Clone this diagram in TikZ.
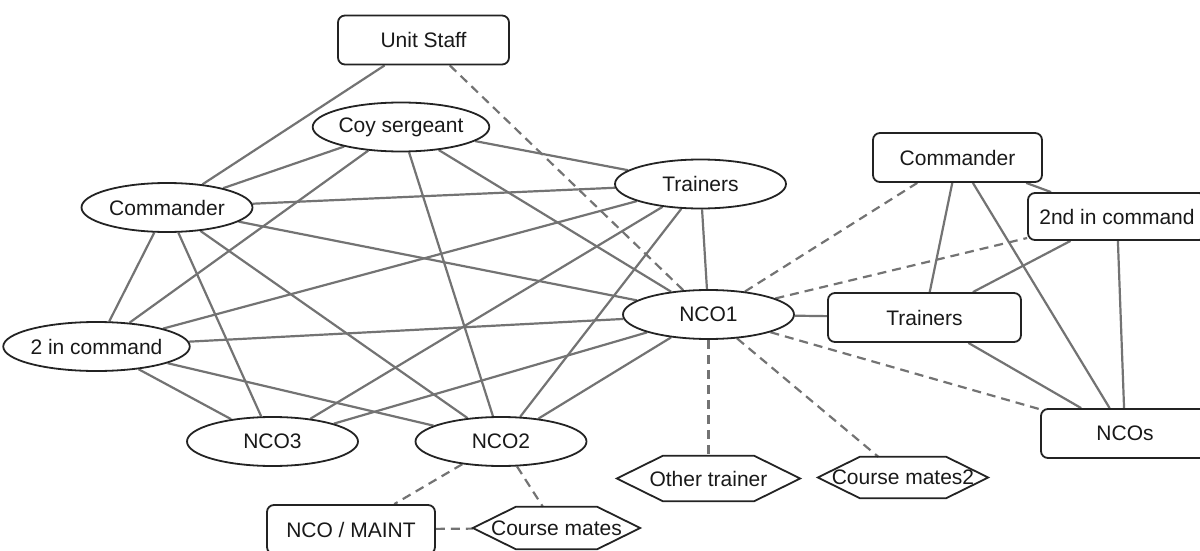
\documentclass[tikz,border=0pt]{standalone}
\usepackage{fontspec}
\setmainfont{Liberation Sans}
\usetikzlibrary{shapes.geometric,backgrounds}
\definecolor{edgegray}{RGB}{115,115,115}
\definecolor{nodeborder}{RGB}{35,35,35}
\definecolor{txt}{RGB}{25,25,25}
\tikzset{
  base/.style={inner sep=0pt, text=txt, font=\fontsize{21}{25}\selectfont},
  ell/.style={base, ellipse, draw=nodeborder, line width=1.8pt, fill=white, minimum width=171pt, minimum height=49pt},
  box/.style={base, rectangle, rounded corners=7pt, draw=nodeborder, line width=1.8pt, fill=white, minimum width=#1, minimum height=49pt},
  box/.default=170pt,
  hexn/.style={base, rectangle, minimum width=#1},
  hexline/.style={draw=nodeborder, line width=1.8pt},
  link/.style={draw=edgegray, line width=2.2pt},
  weak/.style={draw=edgegray, line width=2.2pt, dash pattern=on 9pt off 6pt},
}
\newcommand{\hexdraw}[2]{%
  \draw[hexline] (#1.west) -- ([xshift=#2]#1.north west) -- ([xshift=-#2]#1.north east) -- (#1.east) -- ([xshift=-#2]#1.south east) -- ([xshift=#2]#1.south west) -- cycle;}
\begin{document}
\begin{tikzpicture}[x=1pt,y=-1pt]
\useasboundingbox (0,0) rectangle (1200,551);
% left cluster
\node[box=171pt] (us) at (423.5,40) {Unit Staff};
\node[ell] (coy) at (401,127) {Coy sergeant};
\node[ell] (cmdl) at (167,207.5) {Commander};
\node[ell] (trne) at (700.5,184) {Trainers};
\node[ell] (nco1) at (708.5,314.5) {NCO1};
\node[ell] (twoic) at (96.5,346.5) {2 in command};
\node[ell] (nco3) at (272.5,441.5) {NCO3};
\node[ell] (nco2) at (501,441.5) {NCO2};
\node[box=168pt] (maint) at (351,529.5) {NCO / MAINT};
% hexagons
\node[hexn=167pt, minimum height=42pt] (cm) at (556.5,528) {Course mates};
\hexdraw{cm}{43pt}
\node[hexn=183pt, minimum height=45pt] (ot) at (708.5,478.5) {Other trainer};
\hexdraw{ot}{46pt}
\node[hexn=170pt, minimum height=41pt] (cm2) at (903,477.5) {Course mates2};
\hexdraw{cm2}{42pt}
% right cluster
\node[box=169pt] (cmdr) at (957.5,157.5) {Commander};
\node[box=178pt, minimum height=47pt] (snd) at (1117,216.5) {2nd in command};
\node[box=193pt] (trnr) at (924.5,317.5) {Trainers};
\node[box=168pt] (ncos) at (1125,433.5) {NCOs};
\begin{scope}[on background layer]
% Unit staff
\draw[link] (us) -- (cmdl);
\draw[weak] (us) -- (nco1);
% Coy sergeant
\draw[link] (coy) -- (cmdl);
\draw[link] (coy) -- (trne);
\draw[link] (coy) -- (twoic);
\draw[link] (coy) -- (nco2);
\draw[link] (coy) -- (nco1);
% Commander (left)
\draw[link] (cmdl) -- (trne);
\draw[link] (cmdl) -- (nco1);
\draw[link] (cmdl) -- (twoic);
\draw[link] (cmdl) -- (nco3);
\draw[link] (cmdl) -- (nco2);
% 2 in command
\draw[link] (twoic) -- (trne);
\draw[link] (twoic) -- (nco1);
\draw[link] (twoic) -- (nco3);
\draw[link] (twoic) -- (nco2);
% Trainers ellipse
\draw[link] (trne) -- (nco1);
\draw[link] (trne) -- (nco3);
\draw[link] (trne) -- (nco2);
% NCO3 / NCO2
\draw[link] (nco3) -- (nco1);
\draw[link] (nco2) -- (nco1);
\draw[weak] (nco2) -- (maint);
\draw[weak] (nco2) -- (cm);
\draw[weak] (maint) -- (cm);
% NCO1
\draw[link] (nco1) -- (trnr);
\draw[weak] (nco1) -- (cmdr);
\draw[weak] (nco1) -- (snd);
\draw[weak] (nco1) -- (ncos);
\draw[weak] (nco1) -- (ot);
\draw[weak] (nco1) -- (cm2);
% right cluster
\draw[link] (cmdr) -- (trnr);
\draw[link] (cmdr) -- (ncos);
\draw[link] (cmdr) -- (snd);
\draw[link] (snd) -- (trnr);
\draw[link] (snd) -- (ncos);
\draw[link] (trnr) -- (ncos);
\end{scope}
\end{tikzpicture}
\end{document}
